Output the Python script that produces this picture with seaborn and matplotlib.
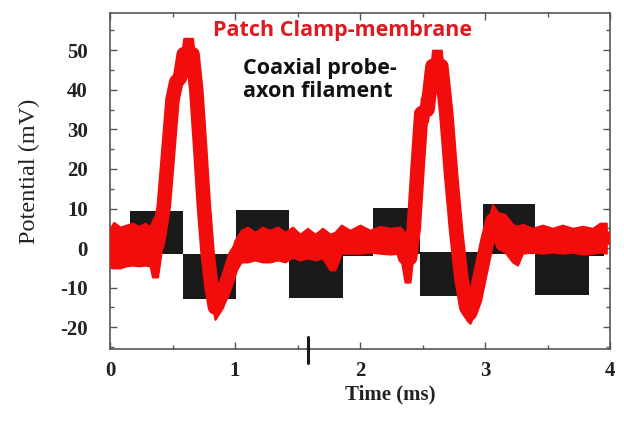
import numpy as np
import pandas as pd
import seaborn as sns
import matplotlib
matplotlib.use("Agg")
import matplotlib.pyplot as plt
from matplotlib.ticker import MultipleLocator

# coaxial probe (black): square-wave segments, envelope of the fast oscillation
black_start = [0.02, 0.16, 0.58, 1.01, 1.43, 1.86, 2.10, 2.48, 2.98, 3.40, 3.83]
black_end = 3.95
black_hi = [3.0, 9.3, -1.5, 9.6, -1.5, 3.0, 10.2, -1.0, 11.2, -1.0, 3.0]
black_lo = [-2.0, -1.5, -12.8, -1.5, -12.6, -2.0, -1.5, -12.2, -1.5, -11.8, -2.0]

# patch clamp (red): upper / lower edge of the trace
red_t = [0.00, 0.03, 0.08, 0.13, 0.18, 0.23, 0.28, 0.32, 0.34, 0.38,
         0.40, 0.43, 0.46, 0.50, 0.53, 0.56, 0.59, 0.66, 0.69, 0.72,
         0.75, 0.78, 0.81, 0.84, 0.90, 0.95, 1.00, 1.05, 1.10, 1.16,
         1.22, 1.28, 1.34, 1.40, 1.46, 1.52, 1.58, 1.64, 1.70, 1.76,
         1.80, 1.85, 1.92, 2.00, 2.08, 2.16, 2.24, 2.32, 2.36, 2.40,
         2.43, 2.46, 2.49, 2.54, 2.58, 2.65, 2.69, 2.73, 2.77, 2.81,
         2.85, 2.88, 2.92, 2.97, 3.02, 3.06, 3.10, 3.16, 3.22, 3.26,
         3.30, 3.38, 3.46, 3.54, 3.62, 3.70, 3.78, 3.86, 3.92, 3.97]
red_hi = [5.0, 6.5, 5.3, 5.8, 6.3, 5.5, 6.3, 5.3, 7.0, 9.0,
          12, 16, 26, 42, 46, 46, 53, 53, 44, 30,
          15, 3, -6, -12, -8, -3, 2, 4.5, 5.3, 4.0,
          5.3, 4.5, 5.3, 4.0, 5.3, 3.5, 5.0, 3.5, 5.0, 3.5,
          4.0, 5.8, 4.5, 5.8, 4.5, 5.5, 5.0, 5.3, 3.8, 3.5,
          10, 25, 38, 38, 50, 50, 38, 22, 8, -4,
          -12, -14, -10, -2, 6, 11, 9, 8.5, 6, 5.5,
          6, 5, 5.8, 5.0, 5.8, 5.0, 5.5, 5.0, 6.3, 6.3]
red_lo = [-4.8, -5.0, -5.0, -4.5, -4.3, -4.5, -4.3, -4.5, -7.3, -7.3,
          -3.0, 5, 18, 33, 38, 40, 45, 45, 36, 22,
          7, -5, -13, -18, -15, -11, -6, -3.5, -3.5, -3.0,
          -3.5, -3.5, -3.0, -3.5, -2.3, -3.0, -2.5, -3.0, -2.5, -5.5,
          -5.5, -1.3, -1.3, -1.3, -1.0, -1.3, -1.5, -1.3, -8.6, -8.6,
          0, 15, 30, 32, 42, 42, 30, 14, 0, -11,
          -18, -19, -16, -9, -2, 3, 0, -1, -3.5, -4.3,
          -1.3, -1.0, -1.3, -1.0, -1.3, -1.0, -1.5, -1.3, -1.0, -1.3]

x_ticks = [0, 1, 2, 3, 4]
y_ticks = [-20, -10, 0, 10, 20, 30, 40, 50]
y_ticklabels = ["-20", "-10", "0", "10", "20", "30", "40", "50"]
marker_t = 1.58

sns.set_theme(style="ticks")
plt.rcParams["font.family"] = ["Liberation Serif", "DejaVu Serif"]

red = pd.DataFrame({"t": red_t, "hi": red_hi, "lo": red_lo})
red["mid"] = (red["hi"] + red["lo"]) / 2

bt = np.array(black_start + [black_end], dtype=float)
bh = np.array(black_hi + [black_hi[-1]], dtype=float)
bl = np.array(black_lo + [black_lo[-1]], dtype=float)

fig = plt.figure(figsize=(6.24, 4.22), dpi=100, facecolor="w")
ax = fig.add_axes([0.1763, 0.173, 0.8013, 0.7962])

ax.fill_between(bt, bl, bh, step="post", facecolor="k", edgecolor="none", zorder=1)
sns.lineplot(data=red, x="t", y="mid", ax=ax, color="#F20C0C", lw=10.5,
             sort=False, estimator=None, zorder=3)
ax.fill_between(red["t"].to_numpy(), red["lo"].to_numpy(), red["hi"].to_numpy(),
                facecolor="#F20C0C", edgecolor="#F20C0C", lw=1.5, zorder=4)

# small vertical marker crossing the time axis
ax.plot([marker_t, marker_t], [-22.5, -29.1], color="k", lw=2.2,
        clip_on=False, zorder=5)

ax.set_xlim(0, 4)
ax.set_ylim(-25.5, 59.4)
ax.set_xticks(x_ticks)
ax.set_yticks(y_ticks)
ax.set_yticklabels(y_ticklabels)
ax.xaxis.set_minor_locator(MultipleLocator(0.5))
ax.yaxis.set_minor_locator(MultipleLocator(5))
ax.tick_params(which="both", direction="in", top=True, right=True,
               color="#555555", width=1)
ax.tick_params(which="major", length=5)
ax.tick_params(which="minor", length=3)
ax.tick_params(axis="y", pad=16, labelsize=15)
ax.tick_params(axis="x", pad=9, labelsize=15)
for lab in ax.get_xticklabels() + ax.get_yticklabels():
    lab.set_fontweight("bold")
    lab.set_color("#222222")
for s in ax.spines.values():
    s.set_color("#555555")
    s.set_linewidth(1.2)

ax.set_xlabel("Time (ms)", fontsize=15, fontweight="bold", color="#222222")
ax.set_ylabel("Potential (mV)", fontsize=17.5, color="#222222")
ax.xaxis.set_label_coords(0.56, -0.106)
ax.yaxis.set_label_coords(-0.14, 0.53)

font_sans = ["Open Sans", "DejaVu Sans"]
ax.text(0.206, 0.949, "Patch Clamp-membrane", transform=ax.transAxes,
        family=font_sans, fontweight="bold", fontsize=15.5,
        color="#E0191F", va="center", ha="left")
ax.text(0.266, 0.836, "Coaxial probe-", transform=ax.transAxes,
        family=font_sans, fontweight="bold", fontsize=15.5,
        color="#111111", va="center", ha="left")
ax.text(0.266, 0.765, "axon filament", transform=ax.transAxes,
        family=font_sans, fontweight="bold", fontsize=15.5,
        color="#111111", va="center", ha="left")

fig.savefig("out.png", dpi=100, facecolor="w")
